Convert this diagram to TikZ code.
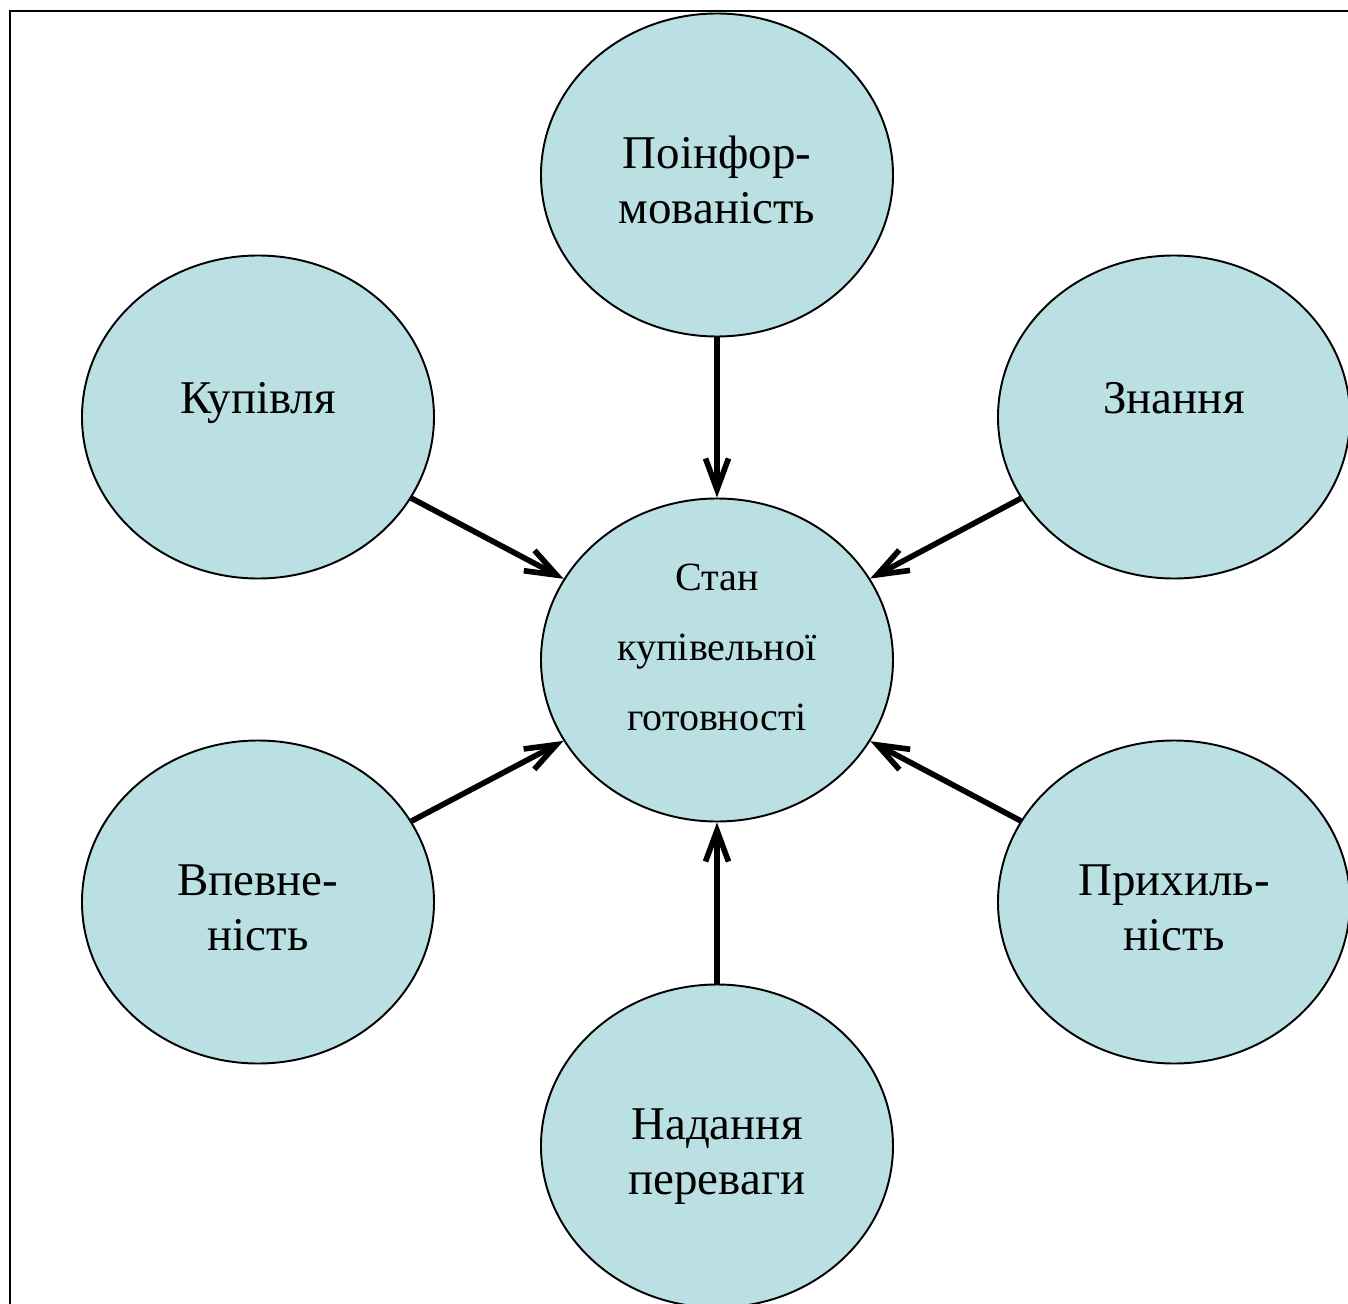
\documentclass[tikz,border=0pt]{standalone}
\usepackage{fontspec}
\setmainfont{Liberation Serif}
\usetikzlibrary{shapes.geometric,arrows.meta}
\definecolor{bubblefill}{RGB}{187,224,227}
\begin{document}
\begin{tikzpicture}[scale=1.0,
    bubble/.style={ellipse,draw,line width=1.1pt,fill=bubblefill,inner sep=0pt,
      minimum width=7.04cm,minimum height=6.46cm,align=center,
      font=\fontsize{26.7}{31.3}\selectfont},
    oneline/.style={bubble,text depth=0.78cm},
    twoline/.style={bubble,text height=1.94cm,text depth=0pt},
    feed/.style={line width=3.2pt,-{Straight Barb[length=0.62cm,width=0.46cm]}}]
    \useasboundingbox (-14.34,-12.86) rectangle (12.62,13.2);
    \clip (-14.34,-12.86) rectangle (12.62,13.2);
    \draw[line width=1.2pt] (-14.14,-13.5) -- (-14.14,12.98) -- (13.5,12.98);
    \node[bubble,font=\fontsize{22.8}{39.8}\selectfont,text depth=0.5cm] (stan) at (0,0) {Стан\\купівельної\\готовності};
    \node[twoline] (poinf) at (0,9.7) {Поінфор-\\мованість};
    \node[oneline] (kupivlia) at (-9.18,4.86) {Купівля};
    \node[oneline] (znannia) at (9.14,4.86) {Знання};
    \node[twoline] (vpevn) at (-9.18,-4.84) {Впевне-\\ність};
    \node[twoline] (prykh) at (9.14,-4.84) {Прихиль-\\ність};
    \node[twoline] (nadannia) at (0,-9.72) {Надання\\переваги};
    \draw[feed] (poinf) -- (stan);
    \draw[feed] (kupivlia) -- (stan);
    \draw[feed] (znannia) -- (stan);
    \draw[feed] (vpevn) -- (stan);
    \draw[feed] (prykh) -- (stan);
    \draw[feed] (nadannia) -- (stan);
  \end{tikzpicture}
\end{document}
